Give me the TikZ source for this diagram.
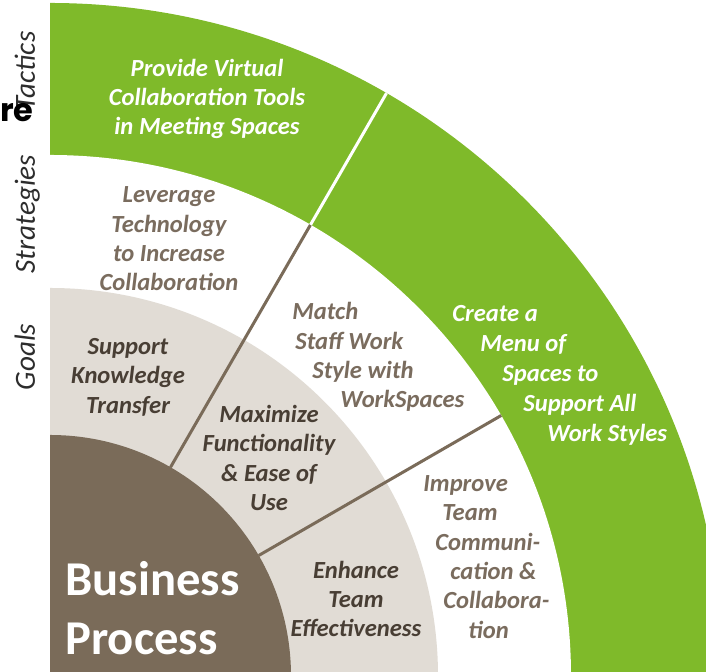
\documentclass[tikz,border=0pt]{standalone}
\usepackage{fontspec}
\setmainfont{Carlito}
\newfontfamily\headfont{Poppins}
\usetikzlibrary{positioning}
\definecolor{tactgreen}{RGB}{127,186,42}
\definecolor{goalbeige}{RGB}{225,220,213}
\definecolor{procbrown}{RGB}{122,107,89}
\definecolor{strattext}{RGB}{122,108,94}
\definecolor{goaltext}{RGB}{72,62,52}
\definecolor{layertext}{RGB}{45,45,45}
\tikzset{
    layerlabel/.style={
           font=\itshape\fontsize{14.6}{16}\selectfont,
           text=layertext,
           rotate=90,
           anchor=base,
           inner sep=0pt},
    tacttxt/.style={
           font=\bfseries\itshape\fontsize{12.3}{14.7}\selectfont,
           text=white,
           inner sep=0pt},
    strattxt/.style={
           tacttxt,
           text=strattext},
    goaltxt/.style={
           tacttxt,
           text=goaltext},
    divider/.style={
           draw=procbrown,
           line width=1.5pt}
}

\begin{document}
\begin{tikzpicture}[x=0.5pt,y=0.5pt]
        \useasboundingbox (-50,4) rectangle (656,676);
        \clip (-50,4) rectangle (656,676);

        % rings, outside in
        \fill[tactgreen] (0,0) -- (0,673) arc[start angle=90, end angle=0, radius=673] -- cycle;
        \fill[white] (0,0) -- (0,521) arc[start angle=90, end angle=0, radius=521] -- cycle;
        \fill[goalbeige] (0,0) -- (0,388) arc[start angle=90, end angle=0, radius=388] -- cycle;
        \fill[procbrown] (0,0) -- (0,241) arc[start angle=90, end angle=0, radius=241] -- cycle;

        % dividers
        \draw[divider] (60:241) -- (60:521);
        \draw[divider] (30:241) -- (30:521);
        \draw[divider, draw=white] (60:521) -- (60:673);

        % left labels
        \node[layerlabel] (tactics) at (-15,605) {Tactics};
        \node[layerlabel] (strategies) at (-15,462) {Strategies};
        \node[layerlabel] (goals) at (-15,319) {Goals};
        \node[font=\headfont\bfseries\fontsize{16}{18}\selectfont, anchor=base east, inner sep=0pt] (cut) at (-16,554) {re};

        % tactics
        \node[tacttxt, align=center] (virtual) at (157,577) {Provide Virtual\\Collaboration Tools\\in Meeting Spaces};
        \node[tacttxt, font=\bfseries\itshape\fontsize{12.3}{15}\selectfont, align=left, anchor=north west] (menu) at (402,371)
            {Create a\\\hspace*{14pt}Menu of\\\hspace*{25pt}Spaces to\\\hspace*{35.5pt}Support All\\\hspace*{47.5pt}Work Styles};

        % strategies
        \node[strattxt, align=center] (leverage) at (119,437) {Leverage\\Technology\\to Increase\\Collaboration};
        \node[strattxt, align=left, anchor=north west] (match) at (242,374)
            {Match\\\hspace*{1.5pt}Staff Work\\\hspace*{10pt}Style with\\\hspace*{24pt}WorkSpaces};
        \node[strattxt, align=left, anchor=north west] (improve) at (373,201)
            {Improve\\\hspace*{9.5pt}Team\\\hspace*{6pt}Communi-\\\hspace*{13.5pt}cation \&\\\hspace*{10pt}Collabora-\\\hspace*{22.5pt}tion};

        % goals
        \node[goaltxt, align=center] (knowledge) at (78,299) {Support\\Knowledge\\Transfer};
        \node[goaltxt, align=center] (maximize) at (219,218) {Maximize\\Functionality\\\& Ease of\\Use};
        \node[goaltxt, align=center] (enhance) at (306,77) {Enhance\\Team\\Effectiveness};

        % core
        \node[font=\bfseries\fontsize{24.3}{29.5}\selectfont, text=white, align=left, anchor=north west, inner sep=0pt] (process) at (15,115) {Business\\Process};
\end{tikzpicture}
\end{document}
